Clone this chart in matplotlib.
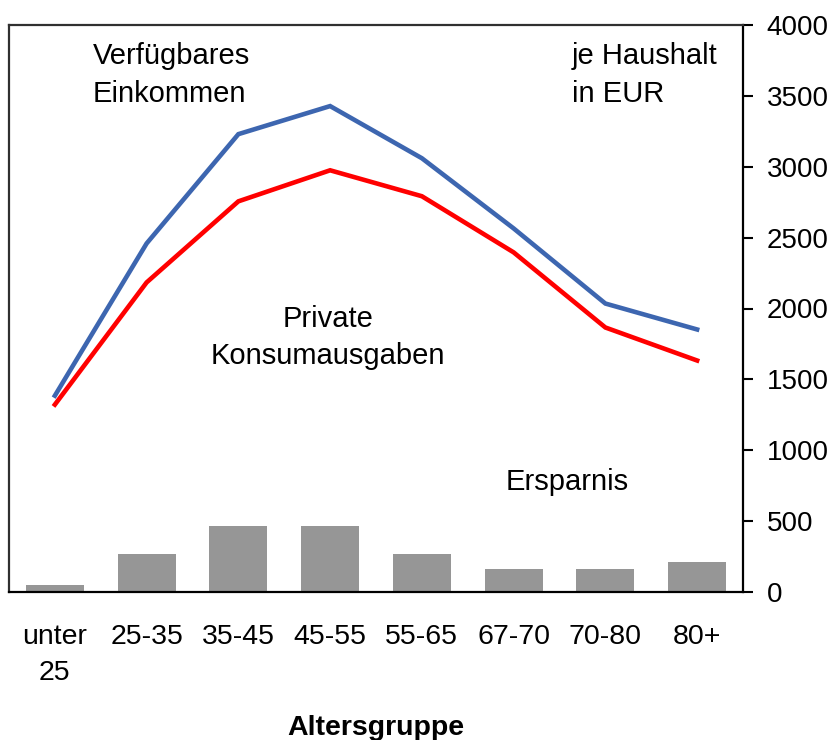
import matplotlib
matplotlib.use("Agg")
import matplotlib.pyplot as plt
import numpy as np

plt.rcParams['font.family'] = ['Liberation Sans', 'DejaVu Sans']

categories = ["unter\n25", "25-35", "35-45", "45-55", "55-65", "67-70", "70-80", "80+"]
einkommen = [1385, 2459, 3230, 3428, 3060, 2565, 2035, 1852]
konsum = [1322, 2184, 2756, 2975, 2792, 2396, 1866, 1633]
ersparnis = [47, 267, 465, 465, 267, 160, 160, 210]
yticks = [0, 500, 1000, 1500, 2000, 2500, 3000, 3500, 4000]

W, H = 836, 740
fig = plt.figure(figsize=(W / 100, H / 100), dpi=100)
ax = fig.add_axes([9 / W, 1 - 592 / H, (743 - 9) / W, (592 - 25) / H])

x = np.arange(len(categories))
ax.bar(x, ersparnis, width=0.63, color='#969696', zorder=2)
ax.plot(x, einkommen, color='#3D66B0', lw=3.3, solid_joinstyle='miter', zorder=3)
ax.plot(x, konsum, color='#FF0000', lw=3.3, solid_joinstyle='miter', zorder=3)

ax.set_xlim(-0.5, len(categories) - 0.5)
ax.set_ylim(0, 4000)
ax.set_xticks(x)
ax.set_xticklabels(categories, fontsize=20.5, linespacing=1.5)
ax.tick_params(axis='x', length=0, pad=23)
ax.yaxis.tick_right()
ax.set_yticks(yticks)
ax.set_yticklabels([str(v) for v in yticks], fontsize=20)
ax.tick_params(axis='y', direction='out', length=7, width=1.5, pad=10, right=True, left=False)

for side in ['left', 'top']:
    ax.spines[side].set_color('#303030')
    ax.spines[side].set_linewidth(1.6)
for side in ['right', 'bottom']:
    ax.spines[side].set_color('black')
    ax.spines[side].set_linewidth(1.6)

fs = 21
ax.text(0.4155, 3728, "Verfügbares", fontsize=fs, ha='left', va='baseline')
ax.text(0.4155, 3460, "Einkommen", fontsize=fs, ha='left', va='baseline')
ax.text(5.636, 3728, "je Haushalt", fontsize=fs, ha='left', va='baseline')
ax.text(5.636, 3460, "in EUR", fontsize=fs, ha='left', va='baseline')
ax.text(2.977, 1873, "Private", fontsize=fs, ha='center', va='baseline')
ax.text(2.977, 1605, "Konsumausgaben", fontsize=fs, ha='center', va='baseline')
ax.text(4.917, 723, "Ersparnis", fontsize=fs, ha='left', va='baseline')

fig.text(376 / W, 1 - 735 / H, "Altersgruppe", fontsize=20.5, fontweight='bold',
         ha='center', va='baseline')

fig.savefig("out.png", dpi=100)
